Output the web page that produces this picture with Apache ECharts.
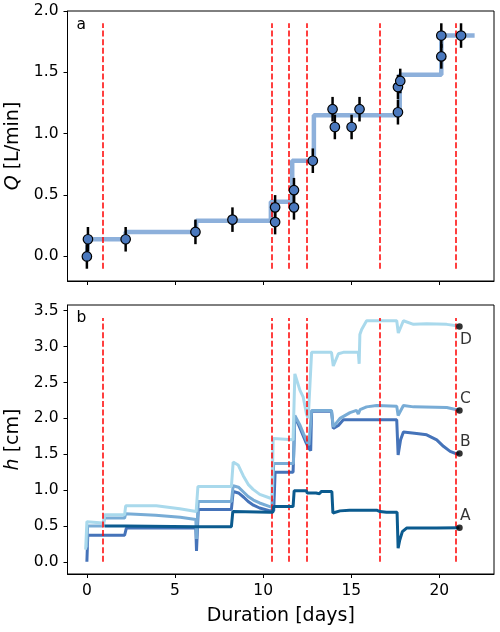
<!DOCTYPE html>
<html lang="en">
<head>
<meta charset="UTF-8">
<title>Q and h</title>
<script src="https://cdn.jsdelivr.net/npm/echarts@6/dist/echarts.min.js"></script>
<style>
  html, body { margin: 0; padding: 0; background: #fff; }
  #main { width: 500px; height: 632px; }
</style>
</head>
<body>
<div id="main"></div>
<script type="text/javascript">
// flow rate measurements (panel a)
var qDays = [0, 0.06, 2.2, 6.16, 8.26, 10.68, 10.68, 11.75, 11.75, 12.82, 13.94, 14.07, 15.02, 15.47, 17.65, 17.65, 17.78, 20.11, 20.11, 21.23];
var qVals = [0.0, 0.14, 0.14, 0.20, 0.30, 0.40, 0.28, 0.54, 0.40, 0.78, 1.20, 1.055, 1.055, 1.20, 1.175, 1.38, 1.43, 1.63, 1.80, 1.80];
var qErr = 0.1;

// imposed flow (step)
var stepDays = [0, 0.06, 2.2, 6.2, 10.44, 11.65, 12.88, 17.75, 20.11, 22.0];
var stepVals = [0, 0.14, 0.20, 0.29, 0.445, 0.78, 1.15, 1.48, 1.80, 1.80];

// event times (red dashed)
var eventDays = [0.92, 10.48, 11.48, 12.48, 16.63, 20.93];

// head at the four probes [day, h]
var probeA = [[1.0,0.50],[2.2,0.50],[2.25,0.49],[6.2,0.49],[6.3,0.49],[8.2,0.49],[8.28,0.70],[10.4,0.69],[10.55,0.69],[10.6,0.77],[11.7,0.77],[11.76,0.99],[12.45,0.99],[12.5,0.96],[13.0,0.96],[13.2,0.95],[13.3,0.98],[13.9,0.98],[13.96,0.68],[14.36,0.71],[14.9,0.72],[16.44,0.72],[16.63,0.70],[17.0,0.69],[17.6,0.69],[17.66,0.19],[17.75,0.30],[17.9,0.42],[18.14,0.47],[19.85,0.47],[19.9,0.48],[21.14,0.475]];
var probeB = [[0.0,0.0],[0.05,0.37],[2.14,0.37],[2.2,0.35],[2.24,0.47],[6.18,0.47],[6.22,0.15],[6.28,0.15],[6.32,0.73],[8.2,0.73],[8.3,0.98],[8.6,0.96],[8.9,0.90],[9.15,0.84],[9.45,0.79],[9.8,0.75],[10.4,0.71],[10.6,0.71],[10.68,1.25],[11.7,1.25],[11.8,2.02],[12.0,1.92],[12.2,1.80],[12.4,1.68],[12.6,1.58],[12.7,1.55],[12.75,2.10],[13.88,2.10],[13.98,1.86],[14.27,1.90],[14.55,1.98],[17.58,1.98],[17.66,1.49],[17.8,1.70],[17.96,1.81],[18.71,1.79],[19.28,1.77],[19.85,1.70],[20.23,1.61],[20.61,1.54],[20.9,1.51],[21.14,1.51]];
var probeC = [[0.0,0.2],[0.04,0.50],[0.9,0.50],[1.0,0.61],[2.14,0.61],[2.2,0.67],[3.9,0.65],[5.3,0.62],[6.18,0.59],[6.22,0.32],[6.28,0.32],[6.32,0.84],[8.2,0.84],[8.3,1.06],[8.6,1.04],[8.9,0.97],[9.15,0.91],[9.45,0.86],[9.8,0.82],[10.38,0.77],[10.5,0.76],[10.6,1.37],[11.72,1.37],[11.8,2.04],[12.1,1.90],[12.3,1.78],[12.5,1.67],[12.6,1.63],[12.75,2.11],[13.88,2.11],[13.98,1.88],[14.36,2.00],[14.93,2.08],[15.3,2.11],[15.4,2.06],[15.5,2.12],[15.87,2.16],[16.44,2.18],[17.58,2.17],[17.66,2.04],[17.96,2.18],[18.53,2.16],[20.42,2.15],[20.99,2.12],[21.14,2.11]];
var probeD = [[-0.07,0.17],[0.0,0.56],[0.9,0.54],[0.95,0.49],[1.0,0.655],[2.14,0.655],[2.2,0.78],[3.94,0.78],[5.27,0.74],[6.2,0.70],[6.3,1.05],[8.2,1.05],[8.3,1.39],[8.58,1.35],[8.87,1.20],[9.15,1.08],[9.43,1.01],[9.81,0.94],[10.38,0.89],[10.5,0.88],[10.57,1.72],[11.7,1.70],[11.8,2.62],[12.09,2.39],[12.27,2.30],[12.46,2.06],[12.56,2.00],[12.65,2.00],[12.75,2.92],[13.88,2.92],[13.98,2.73],[14.27,2.90],[14.55,2.92],[15.4,2.92],[15.45,2.76],[15.49,3.17],[15.59,3.24],[15.87,3.36],[17.58,3.36],[17.67,3.19],[17.96,3.36],[18.53,3.31],[19.28,3.32],[20.42,3.31],[20.99,3.29],[21.14,3.28]];

var probeNames = ['A', 'B', 'C', 'D'];
var xTicks = [0, 5, 10, 15, 20];
var qTicks = [0, 0.5, 1.0, 1.5, 2.0];
var hTicks = [0, 0.5, 1.0, 1.5, 2.0, 2.5, 3.0, 3.5];

var myChart = echarts.init(document.getElementById('main'));
var font = 'DejaVu Sans';
var probes = [probeA, probeB, probeC, probeD];
var probeColors = ['#0b5b8f', '#4573b9', '#78acd6', '#a9d9ec'];

function vlines(y0, y1) {
    return eventDays.map(function (d) {
        return [{coord: [d, y0]}, {coord: [d, y1]}];
    });
}
function fmt(v) { return v.toFixed(1); }

var axisCommon = {
    type: 'value',
    splitLine: {show: false},
    axisLine: {show: true, onZero: false, lineStyle: {color: '#000', width: 1}},
    axisTick: {show: true, length: 4, lineStyle: {color: '#000', width: 1}}
};

var endLabels = probes.map(function (p, i) {
    var last = p[p.length - 1];
    return {
        value: last,
        name: probeNames[i],
        label: {offset: i === 3 ? [0.5, 13] : [0.5, -11.5]}
    };
});

var option = {
    animation: false,
    textStyle: {fontFamily: font},
    grid: [
        {left: 67.5, right: 6, top: 11, height: 270, show: true, borderColor: '#000', borderWidth: 1,
            containLabel: false, outerBoundsMode: 'none'},
        {left: 67.5, right: 6, top: 305, height: 269, show: true, borderColor: '#000', borderWidth: 1,
            containLabel: false, outerBoundsMode: 'none'}
    ],
    xAxis: [
        Object.assign({}, axisCommon, {
            gridIndex: 0, min: -1.1, max: 23.1,
            axisTick: {show: true, length: 4, customValues: xTicks, lineStyle: {color: '#000'}},
            axisLabel: {show: false}
        }),
        Object.assign({}, axisCommon, {
            gridIndex: 1, min: -1.1, max: 23.1,
            axisTick: {show: true, length: 4, customValues: xTicks, lineStyle: {color: '#000'}},
            axisLabel: {customValues: xTicks, fontSize: 15.5, color: '#000', margin: 9, fontFamily: font},
            name: 'Duration [days]', nameLocation: 'middle', nameGap: 33,
            nameTextStyle: {fontSize: 19, color: '#000', fontFamily: font}
        })
    ],
    yAxis: [
        Object.assign({}, axisCommon, {
            gridIndex: 0, min: -0.2, max: 2.0,
            axisTick: {show: true, length: 4, customValues: qTicks, lineStyle: {color: '#000'}},
            axisLabel: {customValues: qTicks, formatter: fmt, fontSize: 15.5, color: '#000', margin: 9, fontFamily: font},
            name: '{i|Q} [L/min]', nameLocation: 'middle', nameGap: 45,
            nameTextStyle: {fontSize: 19, color: '#000', fontFamily: font,
                rich: {i: {fontStyle: 'italic', fontSize: 19, fontFamily: font, color: '#000'}}}
        }),
        Object.assign({}, axisCommon, {
            gridIndex: 1, min: -0.17, max: 3.58,
            axisTick: {show: true, length: 4, customValues: hTicks, lineStyle: {color: '#000'}},
            axisLabel: {customValues: hTicks, formatter: fmt, fontSize: 15.5, color: '#000', margin: 9, fontFamily: font},
            name: '{i|h} [cm]', nameLocation: 'middle', nameGap: 45,
            nameTextStyle: {fontSize: 19, color: '#000', fontFamily: font,
                rich: {i: {fontStyle: 'italic', fontSize: 19, fontFamily: font, color: '#000'}}}
        })
    ],
    graphic: [
        {type: 'text', left: 76.5, top: 17, style: {text: 'a', fontSize: 15.5, fill: '#000', fontFamily: font}},
        {type: 'text', left: 76.5, top: 310, style: {text: 'b', fontSize: 15.5, fill: '#000', fontFamily: font}}
    ],
    series: [
        {
            type: 'line', xAxisIndex: 0, yAxisIndex: 0, step: 'end', showSymbol: false, z: 2,
            data: stepDays.map(function (d, i) { return [d, stepVals[i]]; }),
            lineStyle: {color: '#8db0db', width: 4.5}
        },
        {
            type: 'line', xAxisIndex: 0, yAxisIndex: 0, data: [], z: 3,
            markLine: {
                silent: true, symbol: ['none', 'none'], label: {show: false},
                lineStyle: {color: '#ff0000', width: 1.5, type: [6, 2.6]},
                data: vlines(-0.1, 1.9)
            }
        },
        {
            type: 'custom', xAxisIndex: 0, yAxisIndex: 0, z: 4,
            data: qDays.map(function (d, i) { return [d, qVals[i]]; }),
            renderItem: function (params, api) {
                var x = api.value(0), y = api.value(1);
                var p0 = api.coord([x, y - qErr]);
                var p1 = api.coord([x, y + qErr]);
                return {
                    type: 'line',
                    shape: {x1: p0[0], y1: p0[1], x2: p1[0], y2: p1[1]},
                    style: {stroke: '#000', lineWidth: 2.5}
                };
            }
        },
        {
            type: 'scatter', xAxisIndex: 0, yAxisIndex: 0, z: 5,
            data: qDays.map(function (d, i) { return [d, qVals[i]]; }),
            symbolSize: 9.5,
            itemStyle: {color: '#4a78bd', borderColor: '#000', borderWidth: 1.2, opacity: 1}
        },
        // panel b
        {type: 'line', name: 'B', xAxisIndex: 1, yAxisIndex: 1, data: probeB, showSymbol: false, z: 2,
            lineStyle: {color: probeColors[1], width: 3}},
        {type: 'line', name: 'C', xAxisIndex: 1, yAxisIndex: 1, data: probeC, showSymbol: false, z: 3,
            lineStyle: {color: probeColors[2], width: 3}},
        {type: 'line', name: 'D', xAxisIndex: 1, yAxisIndex: 1, data: probeD, showSymbol: false, z: 4,
            lineStyle: {color: probeColors[3], width: 3}},
        {type: 'line', name: 'A', xAxisIndex: 1, yAxisIndex: 1, data: probeA, showSymbol: false, z: 5,
            lineStyle: {color: probeColors[0], width: 3}},
        {
            type: 'line', xAxisIndex: 1, yAxisIndex: 1, data: [], z: 6,
            markLine: {
                silent: true, symbol: ['none', 'none'], label: {show: false},
                lineStyle: {color: '#ff0000', width: 1.5, type: [6, 2.6]},
                data: vlines(0, 3.4)
            }
        },
        {
            type: 'scatter', xAxisIndex: 1, yAxisIndex: 1, z: 7,
            data: endLabels, symbolSize: 6.5,
            itemStyle: {color: '#000'},
            label: {show: true, position: 'inside', align: 'left', verticalAlign: 'middle',
                formatter: '{b}', fontSize: 15.5, color: '#000', fontFamily: font}
        }
    ]
};

myChart.setOption(option);
window.addEventListener('resize', function () {
    myChart.resize();
});
</script>
</body>
</html>
